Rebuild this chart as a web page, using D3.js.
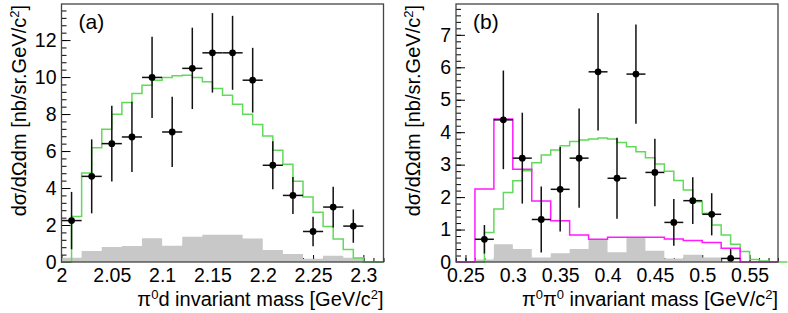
<!DOCTYPE html>
<html>
<head>
<meta charset="utf-8">
<script src="https://cdn.jsdelivr.net/npm/d3@7"></script>
<style>
  body { margin: 0; background: #fff; }
  text { font-family: "Liberation Sans", Arial, Helvetica, sans-serif; fill: #000; }
</style>
</head>
<body>
<svg id="chart" width="788" height="313"></svg>
<script>
// ---- panel (a): pi0 d invariant mass ----
const massA = [2.01, 2.03, 2.05, 2.07, 2.09, 2.11, 2.13, 2.15, 2.17, 2.19, 2.21, 2.23, 2.25, 2.27, 2.29];
const sigmaA = [2.24, 4.63, 6.40, 6.76, 9.98, 7.03, 10.47, 11.31, 11.31, 9.83, 5.23, 3.60, 1.65, 2.97, 1.94];
const errA = [1.55, 2.0, 2.05, 1.9, 2.2, 1.9, 2.2, 2.15, 2.0, 1.75, 1.3, 1.0, 0.8, 1.1, 0.9];
// simulation, 0.01 GeV bins from 2.00
const greenA = [0, 2.46, 4.81, 6.18, 7.18, 7.99, 8.62, 9.11, 9.56, 9.83, 9.98, 10.07, 10.10, 9.98, 9.74, 9.38,
  9.02, 8.53, 7.99, 7.43, 6.81, 6.04, 5.28, 4.37, 3.51, 2.69, 1.92, 1.25, 0.67, 0.22, 0, 0];
// systematic uncertainty, 0.02 GeV bins from 2.00
const grayA = [0.23, 0.60, 0.81, 0.87, 1.29, 0.88, 1.37, 1.48, 1.48, 1.27, 0.65, 0.43, 0.18, 0.34, 0.23, 0];

// ---- panel (b): pi0 pi0 invariant mass ----
const massB = [0.27, 0.29, 0.31, 0.33, 0.35, 0.37, 0.39, 0.41, 0.43, 0.45, 0.47, 0.49, 0.51, 0.53];
const sigmaB = [0.70, 4.38, 3.20, 1.31, 2.24, 3.20, 5.86, 2.58, 5.79, 2.76, 1.22, 1.89, 1.47, 0.11];
const errB = [0.44, 1.52, 1.4, 1.02, 1.3, 1.53, 1.81, 1.25, 1.53, 1.04, 0.72, 0.72, 0.65, 0.29];
// 0.01 GeV bins from 0.24
const greenB = [0, 0, 0, 0.91, 1.63, 2.14, 2.50, 2.81, 3.06, 3.30, 3.45, 3.58, 3.71, 3.76, 3.79, 3.82,
  3.79, 3.68, 3.55, 3.40, 3.21, 3.02, 2.80, 2.51, 2.22, 1.86, 1.50, 1.14, 0.83, 0.55, 0.32, 0.08, 0.03, 0, 0];
// 0.02 GeV bins from 0.24
const magentaB = [0, 2.25, 4.41, 2.86, 1.88, 1.27, 0.83, 0.70, 0.76, 0.76, 0.76, 0.71, 0.66, 0.60, 0.42, 0, 0];
const grayB = [0, 0.08, 0.55, 0.40, 0.14, 0.27, 0.40, 0.70, 0.30, 0.76, 0.35, 0.11, 0.22, 0.14, 0, 0, 0];

const svg = d3.select("#chart");
const fs = 19.5;

function stepPoints(start, width, vals) {
  const pts = [[start, 0]];
  vals.forEach((v, i) => {
    pts.push([start + i * width, v]);
    pts.push([start + (i + 1) * width, v]);
  });
  pts.push([start + vals.length * width, 0]);
  return pts;
}

function addTitle(sel, parts) {
  // parts: array of [text, isSuperscript]
  let up = false;
  parts.forEach(([t, sup]) => {
    const ts = sel.append("tspan").text(t);
    if (sup) ts.attr("font-size", 13).attr("dy", -7);
    else if (up) ts.attr("dy", 7);
    up = sup;
  });
}

function drawPanel(p) {
  const g = svg.append("g");
  const x = d3.scaleLinear().domain(p.xDomain).range(p.xRange);
  const y = d3.scaleLinear().domain([0, p.yMax]).range([262, 4]);

  // ticks, pointing into the frame
  const xMajor = d3.axisBottom(x).tickValues(p.xMajor).tickSize(-7).tickPadding(6)
    .tickFormat(d3.format("~g"));
  const xMinor = d3.axisBottom(x).tickValues(p.xMinor).tickSize(-4).tickFormat("");
  const yMajor = d3.axisLeft(y).tickValues(p.yMajor).tickSize(-9).tickPadding(5);
  const yMinor = d3.axisLeft(y).tickValues(p.yMinor).tickSize(-5).tickFormat("");

  [[xMinor, "b"], [xMajor, "b"], [yMinor, "l"], [yMajor, "l"]].forEach(([ax, side]) => {
    const a = g.append("g")
      .attr("transform", side === "b" ? "translate(0,262)" : `translate(${p.xRange[0]},0)`)
      .call(ax);
    a.select(".domain").remove();
    a.selectAll("line").attr("stroke", "#000").attr("stroke-width", 1);
    a.selectAll("text").attr("font-size", fs).attr("font-family", null).attr("fill", "#000");
  });

  // gray band (systematics)
  const area = d3.area().x(d => x(d[0])).y0(y(0)).y1(d => y(d[1]));
  const line = d3.line().x(d => x(d[0])).y(d => y(d[1]));
  g.append("path")
    .attr("d", area(stepPoints(p.gray.start, p.gray.width, p.gray.values)))
    .attr("fill", "#c8c8c8");

  p.hists.forEach(h => {
    g.append("path")
      .attr("d", line(stepPoints(h.start, h.width, h.values)))
      .attr("fill", "none")
      .attr("stroke", h.color)
      .attr("stroke-width", 1.5);
  });

  // data points with error bars
  const pts = p.mass.map((m, i) => ({ m, v: p.sigma[i], e: p.err[i] }));
  const pg = g.append("g").attr("stroke", "#111").attr("stroke-width", 1.5);
  pg.selectAll("line.v").data(pts).join("line")
    .attr("x1", d => x(d.m)).attr("x2", d => x(d.m))
    .attr("y1", d => y(Math.max(0, d.v - d.e))).attr("y2", d => y(d.v + d.e));
  pg.selectAll("line.h").data(pts).join("line")
    .attr("x1", d => x(d.m - 0.01)).attr("x2", d => x(d.m + 0.01))
    .attr("y1", d => y(d.v)).attr("y2", d => y(d.v));
  g.selectAll("circle").data(pts).join("circle")
    .attr("cx", d => x(d.m)).attr("cy", d => y(d.v)).attr("r", 3.4).attr("fill", "#000");

  // frame
  g.append("rect")
    .attr("x", p.xRange[0]).attr("y", 4)
    .attr("width", p.xRange[1] - p.xRange[0]).attr("height", 258)
    .attr("fill", "none").attr("stroke", "#444").attr("stroke-width", 1.3);

  // titles
  const yt = g.append("text")
    .attr("transform", `translate(${p.xRange[0] - 36},5) rotate(-90)`)
    .attr("text-anchor", "end").attr("font-size", 20);
  addTitle(yt, [["dσ/dΩdm [nb/sr.GeV/c", false], ["2", true], ["]", false]]);

  const xt = g.append("text")
    .attr("x", p.xRange[1]).attr("y", 306)
    .attr("text-anchor", "end").attr("font-size", 20);
  addTitle(xt, p.xTitle);

  g.append("text").attr("x", p.xRange[0] + 17).attr("y", 29)
    .attr("font-size", 21).text(p.label);
}

const r2 = v => Math.round(v * 1000) / 1000;

drawPanel({
  xDomain: [2.0, 2.32], xRange: [61.5, 383.5], yMax: 13.95,
  xMajor: d3.range(0, 7).map(i => r2(2 + i * 0.05)),
  xMinor: d3.range(0, 33).map(i => r2(2 + i * 0.01)),
  yMajor: d3.range(0, 13, 2),
  yMinor: d3.range(0, 35).map(i => r2(i * 0.4)),
  mass: massA, sigma: sigmaA, err: errA,
  gray: { start: 2.0, width: 0.02, values: grayA },
  hists: [{ start: 2.0, width: 0.01, values: greenA, color: "#62d95a" }],
  label: "(a)",
  xTitle: [["π", false], ["0", true], ["d invariant mass [GeV/c", false], ["2", true], ["]", false]]
});

drawPanel({
  xDomain: [0.24, 0.58], xRange: [456, 778], yMax: 7.95,
  xMajor: d3.range(0, 7).map(i => r2(0.25 + i * 0.05)),
  xMinor: d3.range(0, 35).map(i => r2(0.24 + i * 0.01)),
  yMajor: d3.range(0, 8),
  yMinor: d3.range(0, 40).map(i => r2(i * 0.2)),
  mass: massB, sigma: sigmaB, err: errB,
  gray: { start: 0.24, width: 0.02, values: grayB },
  hists: [
    { start: 0.24, width: 0.01, values: greenB, color: "#62d95a" },
    { start: 0.24, width: 0.02, values: magentaB, color: "#ff1aff" }
  ],
  label: "(b)",
  xTitle: [["π", false], ["0", true], ["π", false], ["0", true], [" invariant mass [GeV/c", false], ["2", true], ["]", false]]
});
</script>
</body>
</html>
